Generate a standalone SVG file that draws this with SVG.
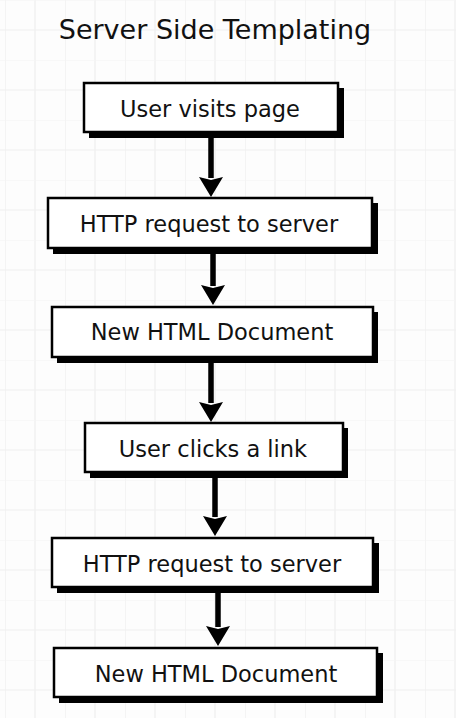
<svg xmlns="http://www.w3.org/2000/svg" width="456" height="718" viewBox="0 0 456 718">
  <defs>
    <pattern id="grid" x="5" y="0" width="60" height="60" patternUnits="userSpaceOnUse">
      <path d="M0,0 V60 M0,30 H60 M30,0 V60" stroke="#efefef" stroke-width="1.2" fill="none"/>
      <path d="M0,0 H60" stroke="#f4f4f4" stroke-width="1.2" fill="none"/>
    </pattern>
    <marker id="head" viewBox="0 0 20 24" refX="1" refY="12" markerWidth="20" markerHeight="24" markerUnits="userSpaceOnUse" orient="auto">
      <path d="M0,0 L20,12 L0,24 L3,12 z" fill="#000"/>
    </marker>
    <style>
      .shadow { fill: #000; }
      .box { fill: #fff; stroke: #000; stroke-width: 2.5; }
      .label { font-family: "DejaVu Sans", "Liberation Sans", sans-serif; font-size: 22.5px; fill: #111; text-anchor: middle; }
      .title { font-family: "DejaVu Sans", "Liberation Sans", sans-serif; font-size: 27px; fill: #111; text-anchor: middle; }
      .conn { stroke: #000; stroke-width: 5.5; fill: none; marker-end: url(#head); }
    </style>
  </defs>
  <rect width="456" height="718" fill="#fdfdfd"/>
  <rect width="456" height="718" fill="url(#grid)"/>

  <text class="title" x="215" y="39">Server Side Templating</text>

  <g id="connectors">
    <line class="conn" x1="211" y1="137" x2="211" y2="178"/>
    <line class="conn" x1="213" y1="253" x2="213" y2="286"/>
    <line class="conn" x1="211" y1="362" x2="211" y2="403"/>
    <line class="conn" x1="215" y1="477" x2="215" y2="517"/>
    <line class="conn" x1="218" y1="593" x2="218" y2="627"/>
  </g>

  <g id="n1">
    <rect class="shadow" x="89" y="88" width="255" height="50"/>
    <rect class="box" x="84" y="83" width="254" height="49"/>
    <text class="label" x="210" y="117">User visits page</text>
  </g>
  <g id="n2">
    <rect class="shadow" x="53" y="203" width="325" height="51"/>
    <rect class="box" x="48" y="198" width="324" height="50"/>
    <text class="label" x="209" y="232">HTTP request to server</text>
  </g>
  <g id="n3">
    <rect class="shadow" x="57" y="312" width="321" height="51"/>
    <rect class="box" x="52" y="307" width="321" height="50"/>
    <text class="label" x="212" y="340">New HTML Document</text>
  </g>
  <g id="n4">
    <rect class="shadow" x="90" y="428" width="258" height="50"/>
    <rect class="box" x="85" y="423" width="258" height="49"/>
    <text class="label" x="213" y="457">User clicks a link</text>
  </g>
  <g id="n5">
    <rect class="shadow" x="57" y="543" width="322" height="50"/>
    <rect class="box" x="52" y="538" width="321" height="49"/>
    <text class="label" x="212" y="572">HTTP request to server</text>
  </g>
  <g id="n6">
    <rect class="shadow" x="59" y="653" width="324" height="50"/>
    <rect class="box" x="54" y="648" width="323" height="49"/>
    <text class="label" x="216" y="682">New HTML Document</text>
  </g>
</svg>
